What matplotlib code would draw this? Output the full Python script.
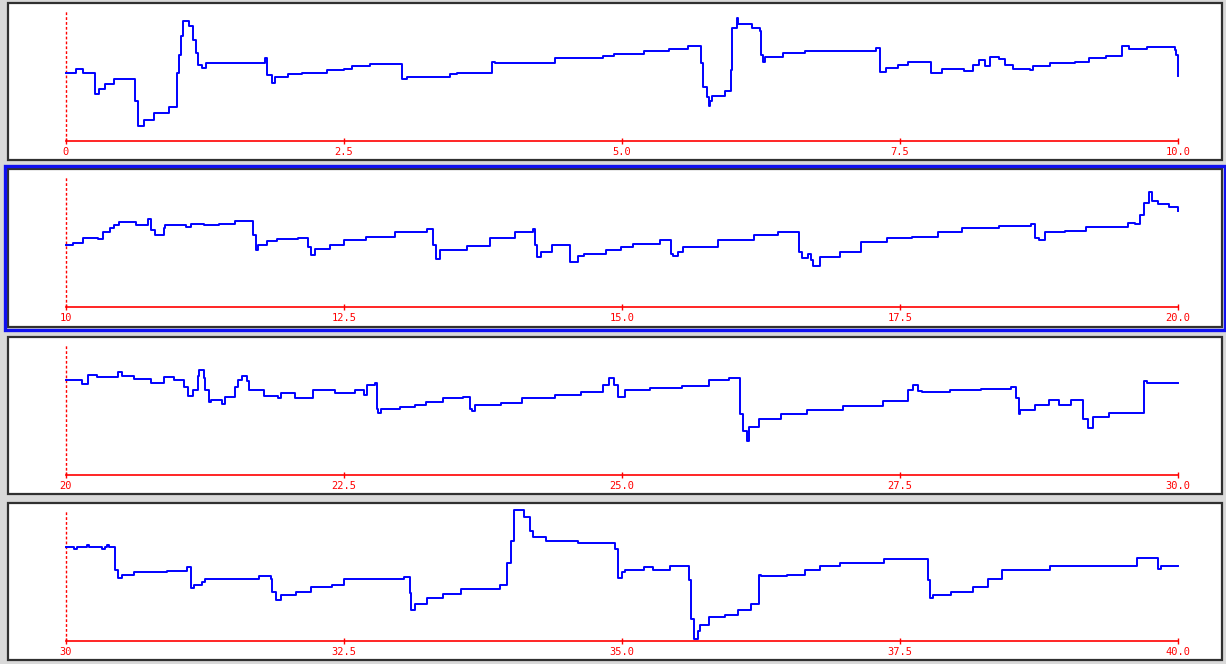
import matplotlib
matplotlib.use("Agg")
import matplotlib.pyplot as plt
from matplotlib.patches import Rectangle

# trace data, one list pair per strip (time, level above the red axis)
t1 = [0.00, 0.09, 0.15, 0.26, 0.30, 0.35, 0.43, 0.62, 0.65, 0.70, 0.79, 0.93,
      1.00, 1.02, 1.03, 1.05, 1.11, 1.14, 1.17, 1.19, 1.22, 1.26, 1.79, 1.81,
      1.85, 1.88, 2.00, 2.12, 2.35, 2.50, 2.57, 2.73, 3.02, 3.07, 3.45, 3.52,
      3.83, 3.86, 4.40, 4.83, 4.93, 5.20, 5.42, 5.59, 5.71, 5.73, 5.76, 5.78,
      5.79, 5.81, 5.93, 5.98, 5.99, 6.03, 6.04, 6.17, 6.24, 6.25, 6.27, 6.29,
      6.45, 6.65, 7.28, 7.32, 7.37, 7.48, 7.57, 7.78, 7.88, 8.08, 8.16, 8.21,
      8.26, 8.31, 8.39, 8.44, 8.52, 8.67, 8.70, 8.85, 9.07, 9.20, 9.35, 9.50,
      9.56, 9.72, 9.97, 9.98, 10.00]
v1 = [68, 72, 68, 47, 52, 57, 62, 40, 15, 21, 28, 34,
      68, 86, 105, 120, 115, 101, 88, 76, 73, 78, 83, 66,
      58, 64, 67, 68, 71, 72, 75, 77, 62, 64, 67, 68,
      79, 78, 83, 85, 87, 90, 92, 95, 78, 54, 44, 35,
      40, 45, 50, 71, 113, 123, 117, 113, 110, 86, 79, 84,
      88, 90, 93, 69, 73, 76, 79, 68, 72, 70, 76, 81,
      75, 84, 82, 76, 72, 71, 75, 78, 79, 83, 85, 95,
      92, 94, 91, 86, 65]

t2 = [10.00, 10.06, 10.15, 10.29, 10.33, 10.40, 10.43, 10.48, 10.63, 10.74,
      10.76, 10.80, 10.88, 10.89, 11.08, 11.12, 11.24, 11.38, 11.52, 11.68,
      11.71, 11.73, 11.81, 11.90, 12.09, 12.18, 12.20, 12.24, 12.37, 12.50,
      12.70, 12.96, 13.25, 13.30, 13.33, 13.36, 13.61, 13.81, 14.04, 14.20,
      14.22, 14.24, 14.27, 14.37, 14.53, 14.60, 14.66, 14.86, 14.99, 15.10,
      15.34, 15.44, 15.46, 15.50, 15.55, 15.86, 16.19, 16.40, 16.59, 16.62,
      16.67, 16.70, 16.72, 16.78, 16.96, 17.15, 17.38, 17.61, 17.84, 18.06,
      18.39, 18.68, 18.71, 18.75, 18.80, 18.98, 19.17, 19.55, 19.61, 19.66,
      19.69, 19.74, 19.77, 19.82, 19.92, 20.00]
v2 = [62, 64, 69, 68, 75, 79, 82, 85, 82, 88,
      77, 72, 79, 82, 80, 83, 82, 83, 86, 72,
      57, 62, 66, 68, 69, 60, 52, 58, 62, 67,
      70, 75, 78, 62, 48, 57, 61, 69, 75, 78,
      62, 50, 55, 62, 45, 51, 53, 57, 60, 63,
      67, 53, 51, 55, 60, 67, 72, 75, 55, 49,
      53, 47, 41, 50, 55, 65, 69, 70, 75, 79,
      81, 83, 69, 67, 75, 76, 80, 84, 83, 92,
      104, 115, 106, 103, 100, 96]

t3 = [20.00, 20.14, 20.20, 20.28, 20.47, 20.50, 20.61, 20.76, 20.88, 20.97,
      21.06, 21.10, 21.14, 21.19, 21.20, 21.24, 21.25, 21.29, 21.30, 21.40,
      21.43, 21.52, 21.55, 21.58, 21.63, 21.65, 21.78, 21.91, 21.93, 22.06,
      22.22, 22.42, 22.60, 22.68, 22.71, 22.78, 22.80, 22.81, 22.83, 23.00,
      23.14, 23.24, 23.39, 23.57, 23.63, 23.65, 23.68, 23.91, 24.10, 24.40,
      24.63, 24.83, 24.88, 24.93, 24.96, 25.03, 25.25, 25.54, 25.78, 25.96,
      26.06, 26.09, 26.12, 26.14, 26.23, 26.43, 26.66, 26.99, 27.35, 27.57,
      27.62, 27.66, 27.70, 27.95, 28.23, 28.50, 28.54, 28.57, 28.58, 28.71,
      28.84, 28.93, 29.04, 29.15, 29.19, 29.24, 29.38, 29.69, 29.72, 30.00]
v3 = [95, 91, 100, 98, 103, 99, 96, 92, 98, 95,
      88, 79, 85, 99, 105, 97, 85, 73, 75, 71,
      78, 88, 95, 99, 94, 85, 79, 77, 82, 77,
      85, 82, 85, 80, 90, 92, 66, 62, 66, 68,
      70, 73, 77, 78, 66, 64, 70, 72, 77, 80,
      83, 90, 97, 90, 78, 85, 87, 89, 95, 97,
      61, 44, 34, 48, 56, 61, 65, 69, 74, 85,
      90, 84, 83, 85, 86, 88, 77, 61, 65, 70,
      75, 70, 75, 56, 47, 58, 62, 94, 92, 92]

t4 = [30.00, 30.07, 30.10, 30.19, 30.21, 30.32, 30.35, 30.37, 30.39, 30.44,
      30.47, 30.50, 30.61, 30.91, 31.09, 31.12, 31.15, 31.22, 31.25, 31.74,
      31.84, 31.85, 31.89, 31.93, 32.07, 32.20, 32.39, 32.50, 33.04, 33.09,
      33.10, 33.14, 33.25, 33.39, 33.55, 33.90, 33.97, 34.00, 34.03, 34.12,
      34.17, 34.20, 34.32, 34.60, 34.94, 34.96, 35.00, 35.03, 35.20, 35.28,
      35.43, 35.60, 35.62, 35.65, 35.68, 35.70, 35.78, 35.93, 36.04, 36.16,
      36.23, 36.25, 36.48, 36.65, 36.78, 36.96, 37.36, 37.75, 37.77, 37.80,
      37.96, 38.16, 38.29, 38.42, 38.85, 39.63, 39.82, 39.85, 40.00]
v4 = [94, 92, 94, 96, 94, 92, 94, 96, 94, 71,
      63, 66, 69, 70, 74, 53, 56, 59, 62, 65,
      62, 49, 41, 46, 49, 54, 56, 62, 64, 48,
      31, 37, 43, 47, 52, 56, 78, 100, 131, 124,
      110, 104, 100, 98, 92, 63, 69, 71, 74, 71,
      75, 61, 22, 2, 10, 16, 24, 26, 31, 37,
      66, 65, 66, 71, 75, 78, 82, 61, 43, 46,
      49, 54, 62, 71, 75, 83, 72, 75, 75]

starts = [0, 10, 20, 30]
tick_labels = [["0", "2.5", "5.0", "7.5", "10.0"],
               ["10", "12.5", "15.0", "17.5", "20.0"],
               ["20", "22.5", "25.0", "27.5", "30.0"],
               ["30", "32.5", "35.0", "37.5", "40.0"]]
traces = [(t1, v1), (t2, v2), (t3, v3), (t4, v4)]

W, H = 1226, 664
fig = plt.figure(figsize=(W / 100, H / 100), dpi=100)
fig.patch.set_facecolor("#d9d9d9")

# panel boxes in pixels: top, bottom, baseline
boxes = [(3, 160, 141), (169, 327, 307), (337, 494, 475), (503, 660, 641)]
left, right = 8, 1222
px_per_unit = (1178 - 66) / 10.0

for i, ((top, bot, base), (t, v)) in enumerate(zip(boxes, traces)):
    ax = fig.add_axes([left / W, 1 - bot / H, (right - left) / W, (bot - top) / H])
    ax.set_facecolor("white")
    x0 = starts[i]
    ax.set_xlim(x0 - (66 - left) / px_per_unit, x0 + 10 + (right - 1178) / px_per_unit)
    ax.set_ylim(-(bot - base), base - top)

    for s in ["top", "left", "right"]:
        ax.spines[s].set_visible(False)
    ax.spines["bottom"].set_position(("data", 0))
    ax.spines["bottom"].set_bounds(x0, x0 + 10)
    ax.spines["bottom"].set_color("red")
    ax.spines["bottom"].set_linewidth(1.2)
    ax.set_yticks([])
    ax.set_xticks([x0 + k * 2.5 for k in range(5)])
    ax.set_xticklabels(tick_labels[i], family="DejaVu Sans Mono")
    ax.tick_params(axis="x", colors="red", direction="inout", length=5,
                   width=1, pad=1.5, labelsize=7.5)

    ax.vlines(x0, 0, 131, colors="red", linestyles=(0, (2, 1.5)), linewidth=1)
    ax.plot(t, v, drawstyle="steps-post", color="#0000ff", linewidth=1.4)

    # panel frame
    ax.add_patch(Rectangle((0, 0), 1, 1, transform=ax.transAxes, fill=False,
                           edgecolor="#303030", linewidth=1.6, clip_on=False))
    if i == 1:
        ax.add_patch(Rectangle((-3 / (right - left), -3 / (bot - top)),
                               1 + 6 / (right - left), 1 + 6 / (bot - top),
                               transform=ax.transAxes, fill=False,
                               edgecolor="#1010f0", linewidth=2.4, clip_on=False))

fig.savefig("out.png", dpi=100, facecolor=fig.get_facecolor())
